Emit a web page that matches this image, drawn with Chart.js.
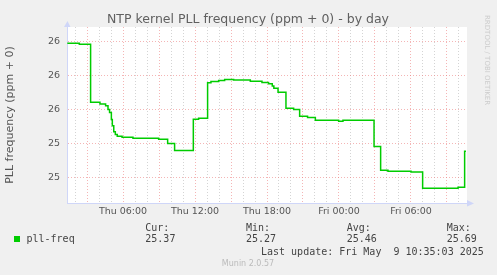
<!DOCTYPE html>
<html>
<head>
<meta charset="utf-8">
<title>NTP kernel PLL frequency</title>
<script src="https://cdn.jsdelivr.net/npm/chart.js@4.4.1/dist/chart.umd.min.js"></script>
<style>
    html, body { margin: 0; padding: 0; background: #f0f0f0; }
    canvas { display: block; }
</style>
</head>
<body>
<canvas id="chartPll" width="497" height="275"></canvas>
<script>
// hours since Thu 00:00, each value holds until the next time
const times = [1.36, 2.36, 3.30, 4.08, 4.55, 4.75, 4.88, 5.03, 5.11, 5.23, 5.36, 5.52, 5.92, 6.83, 8.97,
    9.72, 10.30, 11.86, 12.30, 13.05, 13.33, 13.97, 14.47, 15.22, 16.61, 17.58, 18.13, 18.44, 18.57, 18.92,
    19.58, 20.22, 20.72, 21.38, 22.03, 23.97, 24.33, 26.92, 27.47, 28.08, 30.00, 30.97, 33.92, 34.47, 34.58];
const pllFreq = [25.694, 25.691, 25.521, 25.516, 25.511, 25.500, 25.491, 25.470, 25.452, 25.434, 25.426, 25.421, 25.418, 25.415, 25.412,
    25.400, 25.379, 25.471, 25.474, 25.578, 25.582, 25.585, 25.588, 25.586, 25.583, 25.579, 25.575, 25.569, 25.562, 25.550,
    25.503, 25.500, 25.480, 25.476, 25.468, 25.465, 25.468, 25.391, 25.321, 25.318, 25.316, 25.268, 25.271, 25.377, 25.377];

const yTicks = [25.3, 25.4, 25.5, 25.6, 25.7];
const xTickHours = [6, 12, 18, 24, 30];
const xTickLabels = ['Thu 06:00', 'Thu 12:00', 'Thu 18:00', 'Fri 00:00', 'Fri 06:00'];

const statNames = ['Cur:', 'Min:', 'Avg:', 'Max:'];
const statValues = ['25.37', '25.27', '25.46', '25.69'];

const colors = {
    line: '#00cc00',
    font: '#555555',
    title: '#606060',
    axis: '#cfd6f8',
    mgrid: 'rgba(235, 120, 120, 0.55)',
    grid: 'rgba(170, 170, 170, 0.5)'
};

// Fondo blanco del area de dibujo, flechas y textos de munin
const munin = {
    id: 'munin',
    beforeDraw(chart) {
        const { ctx, chartArea: a } = chart;
        ctx.save();
        ctx.fillStyle = '#ffffff';
        ctx.fillRect(a.left, a.top, a.right - a.left, a.bottom - a.top);
        ctx.restore();
    },
    afterDraw(chart) {
        const { ctx, chartArea: a } = chart;
        ctx.save();

        // flechas de los ejes
        ctx.fillStyle = colors.axis;
        ctx.beginPath();
        ctx.moveTo(a.left - 3, a.top);
        ctx.lineTo(a.left + 3.5, a.top);
        ctx.lineTo(a.left + 0.5, a.top - 6);
        ctx.closePath();
        ctx.fill();
        ctx.beginPath();
        ctx.moveTo(a.right, a.bottom - 3);
        ctx.lineTo(a.right, a.bottom + 3.5);
        ctx.lineTo(a.right + 7, a.bottom + 0.5);
        ctx.closePath();
        ctx.fill();

        ctx.textBaseline = 'middle';

        // titulo
        ctx.fillStyle = colors.title;
        ctx.font = '12.5px "DejaVu Sans"';
        ctx.textAlign = 'center';
        ctx.fillText('NTP kernel PLL frequency (ppm + 0) - by day', 248, 20);

        // titulo eje y
        ctx.save();
        ctx.translate(10, 115);
        ctx.rotate(-Math.PI / 2);
        ctx.fillStyle = colors.font;
        ctx.font = '11px "DejaVu Sans"';
        ctx.fillText('PLL frequency (ppm + 0)', 0, 0);
        ctx.restore();

        // leyenda
        ctx.fillStyle = colors.line;
        ctx.fillRect(14, 236, 6, 6);
        ctx.fillStyle = '#444444';
        ctx.font = '10px "DejaVu Sans Mono"';
        ctx.textAlign = 'left';
        ctx.fillText('pll-freq', 26.5, 239.5);
        const statX = [145.3, 246, 346.7, 446.7];
        statNames.forEach((n, i) => {
            ctx.fillText(n, statX[i], 228);
            ctx.fillText(statValues[i], statX[i], 239.5);
        });
        ctx.fillText('Last update: Fri May  9 10:35:03 2025', 261, 252);

        ctx.fillStyle = '#bbbbbb';
        ctx.font = '8px "DejaVu Sans"';
        ctx.textAlign = 'center';
        ctx.fillText('Munin 2.0.57', 248, 264);

        ctx.save();
        ctx.translate(487, 15);
        ctx.rotate(Math.PI / 2);
        ctx.fillStyle = '#cccccc';
        ctx.font = '7px "DejaVu Sans"';
        ctx.textAlign = 'left';
        ctx.fillText('RRDTOOL / TOBI OETIKER', 0, 0);
        ctx.restore();

        ctx.restore();
    }
};

const points = times.map((t, i) => ({ x: t, y: pllFreq[i] }));

new Chart(document.getElementById('chartPll'), {
    type: 'line',
    data: {
        datasets: [{
            label: 'pll-freq',
            data: points,
            borderColor: colors.line,
            borderWidth: 1.5,
            pointRadius: 0,
            stepped: 'before',
            fill: false
        }]
    },
    options: {
        responsive: false,
        animation: false,
        devicePixelRatio: 1,
        layout: {
            padding: { left: 0, top: 27, right: 30, bottom: 52 }
        },
        plugins: {
            legend: { display: false },
            tooltip: { enabled: false }
        },
        scales: {
            x: {
                type: 'linear',
                min: 1.333,
                max: 34.667,
                afterFit(scale) { scale.height = 20; },
                afterBuildTicks(scale) {
                    const ticks = [];
                    for (let h = 2; h <= 34; h++) ticks.push({ value: h });
                    scale.ticks = ticks;
                },
                grid: {
                    drawTicks: false,
                    lineWidth: 1,
                    color: c => (c.tick && c.tick.value % 3 === 0) ? colors.mgrid : colors.grid
                },
                border: { color: colors.axis, width: 1, dash: [1, 2] },
                ticks: {
                    autoSkip: false,
                    maxRotation: 0,
                    padding: 3,
                    color: colors.font,
                    font: { family: 'DejaVu Sans', size: 9.5 },
                    callback: v => {
                        const i = xTickHours.indexOf(v);
                        return i >= 0 ? xTickLabels[i] : '';
                    }
                }
            },
            y: {
                min: 25.225,
                max: 25.742,
                afterFit(scale) { scale.width = 67; },
                afterBuildTicks(scale) {
                    scale.ticks = yTicks.map(v => ({ value: v }));
                },
                grid: {
                    drawTicks: false,
                    color: colors.mgrid
                },
                border: { color: colors.axis, width: 1, dash: [1, 2] },
                ticks: {
                    padding: 7,
                    color: colors.font,
                    font: { family: 'DejaVu Sans', size: 9.5 },
                    callback: v => String(Math.round(v))
                }
            }
        }
    },
    plugins: [munin]
});
</script>
</body>
</html>
